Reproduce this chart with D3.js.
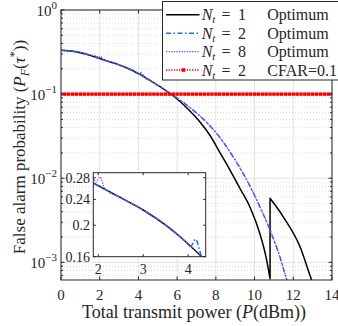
<!DOCTYPE html>
<html><head><meta charset="utf-8">
<script src="https://cdn.jsdelivr.net/npm/d3@7"></script>
<style>
body{margin:0;background:#fff}
text{font-family:"Liberation Serif","Times New Roman",serif;fill:#262626}
</style>
</head><body>
<svg id="c" width="338" height="326"></svg>
<script>
// ---------- data ----------
const xTicks = [0, 2, 4, 6, 8, 10, 12, 14];
const yTickExps = [0, -1, -2, -3];
const insetXTicks = [2, 3, 4];
const insetYTicks = [0.16, 0.2, 0.24, 0.28];
const insetYTickLabels = ["0.16", "0.2", "0.24", "0.28"];

// N_t = 1, Optimum (black solid)
const nt1X = [0, 0.5, 1, 1.5, 2, 2.5, 3, 3.5, 3.82, 4, 4.3, 4.6, 5, 5.3, 5.63, 6.15, 6.66, 7.18, 7.7, 8.21, 8.73, 9.25, 9.76, 10.28, 10.59, 10.8, 10.8, 11.48, 12.35, 12.95, 13.3];
const nt1Y = [0.333, 0.325, 0.311, 0.289, 0.2645, 0.243, 0.2227, 0.2001, 0.1843, 0.175, 0.160, 0.1455, 0.1272, 0.1148, 0.102, 0.0817, 0.0630, 0.0466, 0.0322, 0.0202, 0.01252, 0.00754, 0.00455, 0.00217, 0.00116, 0.00064, 0.00577, 0.00348, 0.00153, 0.000616, 0.0004];

// N_t = 2, Optimum (blue dash-dot)
const nt2X = [0, 0.5, 1, 1.5, 2, 2.5, 3, 3.5, 3.82, 4, 4.06, 4.13, 4.16, 4.2, 4.25, 4.3, 4.6, 5, 5.3, 5.63, 6.15, 6.66, 7.18, 7.7, 8.21, 8.73, 9.25, 9.76, 10.28, 10.8, 11.31, 11.67, 12];
const nt2Y = [0.333, 0.325, 0.311, 0.289, 0.2645, 0.243, 0.2227, 0.2001, 0.1843, 0.175, 0.172, 0.179, 0.1815, 0.178, 0.168, 0.160, 0.1455, 0.1272, 0.1148, 0.102, 0.0851, 0.0693, 0.0549, 0.0418, 0.0305, 0.0205, 0.0132, 0.00807, 0.00455, 0.00242, 0.001156, 0.000616, 0.0004];

// N_t = 8, Optimum (purple dotted)
const nt8X = [0, 0.5, 1, 1.5, 1.8, 1.89, 1.95, 2.04, 2.14, 2.5, 3, 3.5, 3.82, 4, 4.3, 4.6, 5, 5.3, 5.63, 6.15, 6.66, 7.18, 7.7, 8.21, 8.73, 9.25, 9.76, 10.28, 10.8, 11.31, 11.67, 12];
const nt8Y = [0.334, 0.328, 0.315, 0.294, 0.285, 0.278, 0.2717, 0.2812, 0.2600, 0.243, 0.2227, 0.2001, 0.1843, 0.175, 0.160, 0.1455, 0.1272, 0.1148, 0.102, 0.0851, 0.0693, 0.0549, 0.0418, 0.0305, 0.0205, 0.0132, 0.00807, 0.00455, 0.00242, 0.001156, 0.000616, 0.0004];

// N_t = 2, CFAR = 0.1 (red dotted with squares)
const cfarX = [0,0.2,0.4,0.6,0.8,1,1.2,1.4,1.6,1.8,2,2.2,2.4,2.6,2.8,3,3.2,3.4,3.6,3.8,4,4.2,4.4,4.6,4.8,5,5.2,5.4,5.6,5.8,6,6.2,6.4,6.6,6.8,7,7.2,7.4,7.6,7.8,8,8.2,8.4,8.6,8.8,9,9.2,9.4,9.6,9.8,10,10.2,10.4,10.6,10.8,11,11.2,11.4,11.6,11.8,12,12.2,12.4,12.6,12.8,13,13.2,13.4,13.6,13.8,14];
const cfarLevel = 0.1;

const legendN = ["1", "2", "8", "2"];
const legendRight = ["Optimum", "Optimum", "Optimum", "CFAR=0.1"];

// ---------- styles ----------
const seriesStyle = [
  {color: "#000000", width: 1.5, dash: null},
  {color: "#1a76d2", width: 1.5, dash: "5,2.5,1.5,2.5"},
  {color: "#7b45f0", width: 1.3, dash: "1.3,1.3"},
  {color: "#ff0000", width: 1.4, dash: "1.3,1.3"}
];
const axisColor = "#262626";

const svg = d3.select("#c");
const L = 61, R = 332, T = 10, B = 280;
const x = d3.scaleLinear().domain([0, 14]).range([L, R]);
const y = d3.scaleLog().domain([Math.pow(10, -3.21), 1]).range([B, T]);

const defs = svg.append("defs");
defs.append("clipPath").attr("id", "mainClip").append("rect")
  .attr("x", L).attr("y", T).attr("width", R - L).attr("height", B - T);

// grid
const grid = svg.append("g");
const minor = [];
for (let e = -4; e < 0; e++) for (let k = 2; k <= 9; k++) {
  const v = k * Math.pow(10, e);
  if (v > y.domain()[0] && v < 1) minor.push(v);
}
grid.selectAll(".mn").data(minor).join("line")
  .attr("x1", L).attr("x2", R).attr("y1", d => y(d)).attr("y2", d => y(d))
  .attr("stroke", "#cfcfcf").attr("stroke-width", 0.8).attr("stroke-dasharray", "1,2");
grid.selectAll(".mj").data(yTickExps.map(e => Math.pow(10, e))).join("line")
  .attr("x1", L).attr("x2", R).attr("y1", d => y(d)).attr("y2", d => y(d))
  .attr("stroke", "#e2e2e2").attr("stroke-width", 1);
grid.selectAll(".vx").data(xTicks).join("line")
  .attr("x1", d => x(d)).attr("x2", d => x(d)).attr("y1", T).attr("y2", B)
  .attr("stroke", "#e2e2e2").attr("stroke-width", 1);

// series: smooth (monotone) segments, vertical jumps where x repeats
function seriesPath(xs, ys, sx, sy) {
  const segs = [[]];
  xs.forEach((v, i) => {
    if (i > 0 && v === xs[i - 1]) segs.push([]);
    segs[segs.length - 1].push([v, ys[i]]);
  });
  const line = d3.line().x(d => sx(d[0])).y(d => sy(d[1])).curve(d3.curveMonotoneX);
  const ds = segs.map(s => line(s));
  return ds[0] + ds.slice(1).map(d => "L" + d.slice(1)).join("");
}
function drawSeries(g, xs, ys, st, sx, sy) {
  g.append("path").attr("d", seriesPath(xs, ys, sx, sy)).attr("fill", "none")
    .attr("stroke", st.color).attr("stroke-width", st.width)
    .attr("stroke-dasharray", st.dash).attr("stroke-linejoin", "round");
}
const plot = svg.append("g").attr("clip-path", "url(#mainClip)");
drawSeries(plot, nt1X, nt1Y, seriesStyle[0], x, y);
drawSeries(plot, nt2X, nt2Y, seriesStyle[1], x, y);
drawSeries(plot, nt8X, nt8Y, seriesStyle[2], x, y);
const cfarY = cfarX.map(() => cfarLevel);
drawSeries(plot, cfarX, cfarY, seriesStyle[3], x, y);
plot.selectAll(".cm").data(cfarX).join("rect")
  .attr("x", d => x(d) - 1.7).attr("y", y(cfarLevel) - 1.7).attr("width", 3.4).attr("height", 3.4)
  .attr("fill", "#ff0000");

// axes box and ticks
const ax = svg.append("g");
ax.append("rect").attr("x", L).attr("y", T).attr("width", R - L).attr("height", B - T)
  .attr("fill", "none").attr("stroke", axisColor).attr("stroke-width", 1);
const tl = 3.5;
xTicks.forEach(v => {
  ax.append("line").attr("x1", x(v)).attr("x2", x(v)).attr("y1", B).attr("y2", B - tl).attr("stroke", axisColor);
  ax.append("line").attr("x1", x(v)).attr("x2", x(v)).attr("y1", T).attr("y2", T + tl).attr("stroke", axisColor);
  ax.append("text").attr("x", x(v)).attr("y", 300).attr("text-anchor", "middle")
    .attr("font-size", 15).text(v);
});
yTickExps.map(e => Math.pow(10, e)).concat(minor).forEach(v => {
  const len = minor.includes(v) ? 2 : tl;
  ax.append("line").attr("x1", L).attr("x2", L + len).attr("y1", y(v)).attr("y2", y(v)).attr("stroke", axisColor);
  ax.append("line").attr("x1", R).attr("x2", R - len).attr("y1", y(v)).attr("y2", y(v)).attr("stroke", axisColor);
});
yTickExps.forEach(e => {
  const t = ax.append("text").attr("x", 57).attr("y", y(Math.pow(10, e)) + 5.5)
    .attr("text-anchor", "end").attr("font-size", 15);
  t.append("tspan").text("10");
  t.append("tspan").attr("dy", -7).attr("font-size", 11).text(e === 0 ? "0" : "\u2212" + (-e));
});

// axis labels
const xl = svg.append("text").attr("x", 194).attr("y", 317.5).attr("text-anchor", "middle").attr("font-size", 18);
xl.append("tspan").text("Total transmit power (");
xl.append("tspan").attr("font-style", "italic").text("P");
xl.append("tspan").text("(dBm))");

const yl = svg.append("text").attr("transform", "translate(25,147) rotate(-90)")
  .attr("text-anchor", "middle").attr("font-size", 17);
yl.append("tspan").text("False alarm probability (");
yl.append("tspan").attr("font-style", "italic").text("P");
yl.append("tspan").attr("font-style", "italic").attr("font-size", 12).attr("dy", 4).text("F");
yl.append("tspan").attr("dy", -4).text("(");
yl.append("tspan").attr("font-style", "italic").text("\u03c4");
yl.append("tspan").attr("font-size", 12).attr("dy", -7).text("*");
yl.append("tspan").attr("dy", 7).text("))");

// ---------- inset ----------
const iL = 93.3, iR = 205.7, iT = 172.7, iB = 256.7;
const ix = d3.scaleLinear().domain([1.89, 4.39]).range([iL, iR]);
const iy = d3.scaleLog().domain([0.16, 0.29]).range([iB, iT]);
defs.append("clipPath").attr("id", "insetClip").append("rect")
  .attr("x", iL).attr("y", iT).attr("width", iR - iL).attr("height", iB - iT);
svg.append("rect").attr("x", iL).attr("y", iT).attr("width", iR - iL).attr("height", iB - iT).attr("fill", "#fff");
const ip = svg.append("g").attr("clip-path", "url(#insetClip)");
drawSeries(ip, nt1X, nt1Y, seriesStyle[0], ix, iy);
drawSeries(ip, nt2X, nt2Y, seriesStyle[1], ix, iy);
drawSeries(ip, nt8X, nt8Y, seriesStyle[2], ix, iy);
const ia = svg.append("g");
ia.append("rect").attr("x", iL).attr("y", iT).attr("width", iR - iL).attr("height", iB - iT)
  .attr("fill", "none").attr("stroke", axisColor).attr("stroke-width", 1);
insetXTicks.forEach(v => {
  ia.append("line").attr("x1", ix(v)).attr("x2", ix(v)).attr("y1", iB).attr("y2", iB - 2.5).attr("stroke", axisColor);
  ia.append("line").attr("x1", ix(v)).attr("x2", ix(v)).attr("y1", iT).attr("y2", iT + 2.5).attr("stroke", axisColor);
  ia.append("text").attr("x", ix(v)).attr("y", 274).attr("text-anchor", "middle").attr("font-size", 14).text(v);
});
insetYTicks.forEach((v, i) => {
  ia.append("line").attr("x1", iL).attr("x2", iL + 2.5).attr("y1", iy(v)).attr("y2", iy(v)).attr("stroke", axisColor);
  ia.append("line").attr("x1", iR).attr("x2", iR - 2.5).attr("y1", iy(v)).attr("y2", iy(v)).attr("stroke", axisColor);
  ia.append("text").attr("x", 90).attr("y", iy(v) + 5).attr("text-anchor", "end").attr("font-size", 14).text(insetYTickLabels[i]);
});

// ---------- legend ----------
const lg = svg.append("g");
lg.append("rect").attr("x", 162.5).attr("y", 1.5).attr("width", 180).attr("height", 78.5)
  .attr("fill", "#fff").attr("stroke", axisColor).attr("stroke-width", 1);
const rowY = [14.7, 33.2, 51.6, 70];
rowY.forEach((ry, i) => {
  const st = seriesStyle[i];
  lg.append("line").attr("x1", 166).attr("x2", 199.5).attr("y1", ry).attr("y2", ry)
    .attr("stroke", st.color).attr("stroke-width", st.width).attr("stroke-dasharray", st.dash);
  if (i === 3) lg.append("rect").attr("x", 181.5).attr("y", ry - 1.8).attr("width", 3.6).attr("height", 3.6).attr("fill", "#ff0000");
  const t = lg.append("text").attr("x", 201.7).attr("y", ry + 5.5).attr("font-size", 16);
  t.append("tspan").attr("font-style", "italic").text("N");
  t.append("tspan").attr("font-style", "italic").attr("font-size", 11).attr("dy", 3).text("t");
  lg.append("text").attr("x", 221.5).attr("y", ry + 5.5).attr("font-size", 16).text("=");
  lg.append("text").attr("x", 238).attr("y", ry + 5.5).attr("font-size", 16).text(legendN[i]);
  lg.append("text").attr("x", 267.3).attr("y", ry + 5.5).attr("font-size", 16).text(legendRight[i]);
});
</script>
</body></html>
